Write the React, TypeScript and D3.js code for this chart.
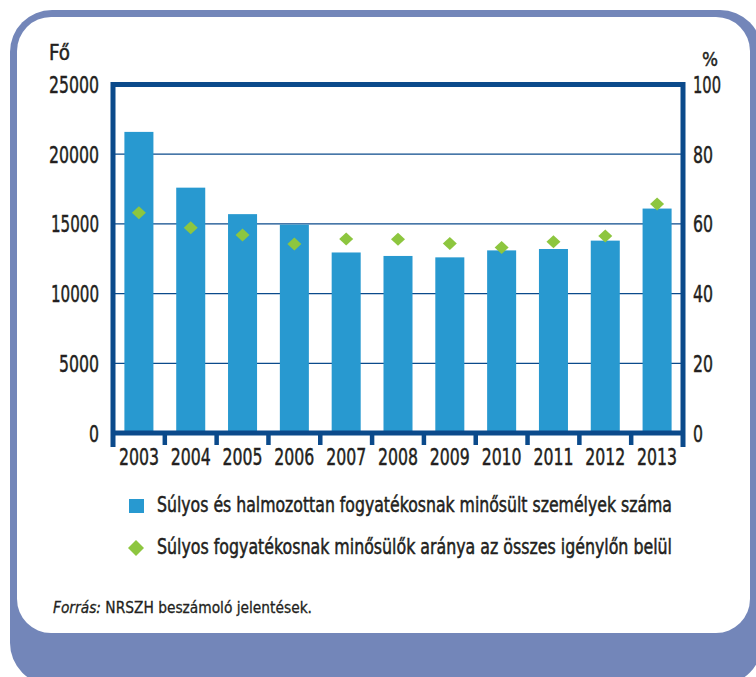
import React from "react";
import * as d3 from "d3";

const years = ["2003", "2004", "2005", "2006", "2007", "2008", "2009", "2010", "2011", "2012", "2013"];
const counts = [21600, 17600, 15700, 14950, 12950, 12700, 12600, 13100, 13200, 13800, 16100];
const ratios = [63.2, 58.9, 56.8, 54.2, 55.7, 55.6, 54.4, 53.2, 54.9, 56.5, 65.7];
const leftTicks = [0, 5000, 10000, 15000, 20000, 25000];
const rightTicks = [0, 20, 40, 60, 80, 100];
const leftUnit = "Fő";
const rightUnit = "%";
const legendBar = "Súlyos és halmozottan fogyatékosnak minősült személyek száma";
const legendDiamond = "Súlyos fogyatékosnak minősülők aránya az összes igénylőn belül";
const sourceLabel = "Forrás:";
const sourceText = " NRSZH beszámoló jelentések.";

const W = 756;
const H = 677;
const FONT = "'Liberation Sans Narrow', 'DejaVu Sans Condensed', 'Arial Narrow', sans-serif";
const BAR = "#2899d0";
const DIAMOND = "#8dc63f";
const FRAME = "#0b4a8b";
const TEXT = "#231f20";
const BORDER = "#7386b9";

const digitW = (s: string) => s.split("").reduce((a, c) => a + (c === "1" ? 8 : 10), 0);

export default function App() {
  const left = 113, right = 683, top = 84.5, bottom = 433;
  const x = d3.scaleBand<string>().domain(years).range([left, right]).padding(0);
  const y = d3.scaleLinear().domain([0, 25000]).range([bottom, top]);
  const y2 = d3.scaleLinear().domain([0, 100]).range([bottom, top]);
  const bw = x.bandwidth() * 0.56;
  const diamond = (cx: number, cy: number, hw: number, hh: number) =>
    `M${cx},${cy - hh}L${cx + hw},${cy}L${cx},${cy + hh}L${cx - hw},${cy}Z`;
  const heavy = { stroke: TEXT, strokeWidth: 0.45 };

  return (
    <svg width={W} height={H} style={{ position: "absolute", left: 0, top: 0, display: "block" }}
      fontFamily={FONT}>
      <rect x={0} y={0} width={W} height={H} fill="#ffffff" />
      <rect x={10} y={10} width={752} height={675} rx={42} ry={42} fill={BORDER} />
      <rect x={17} y={17} width={733} height={616} rx={34} ry={34} fill="#ffffff" />

      {/* gridlines */}
      {leftTicks.filter(t => t > 0 && t < 25000).map(t => (
        <line key={"g" + t} x1={left} x2={right} y1={y(t)} y2={y(t)} stroke={FRAME} strokeWidth={1.3} />
      ))}

      {/* bars */}
      {years.map((yr, i) => (
        <rect key={"b" + yr} x={(x(yr) as number) + (x.bandwidth() - bw) / 2} y={y(counts[i])}
          width={bw} height={bottom - y(counts[i])} fill={BAR} />
      ))}

      {/* diamonds */}
      {years.map((yr, i) => (
        <path key={"d" + yr} d={diamond((x(yr) as number) + x.bandwidth() / 2, y2(ratios[i]), 7, 6.5)} fill={DIAMOND} />
      ))}

      {/* frame */}
      <line x1={left} x2={right} y1={top} y2={top} stroke={FRAME} strokeWidth={5} />
      <line x1={left} x2={left} y1={top - 2.5} y2={bottom + 14} stroke={FRAME} strokeWidth={5} />
      <line x1={right} x2={right} y1={top - 2.5} y2={bottom + 14} stroke={FRAME} strokeWidth={5} />
      <line x1={left} x2={right} y1={bottom} y2={bottom} stroke={FRAME} strokeWidth={5} />
      {years.slice(1).map(yr => (
        <line key={"t" + yr} x1={x(yr) as number} x2={x(yr) as number} y1={bottom} y2={bottom + 12}
          stroke={FRAME} strokeWidth={4.5} />
      ))}

      {/* left axis labels */}
      {leftTicks.map(t => (
        <text key={"l" + t} x={99} y={y(t) + 8.5} textAnchor="end" fontSize={23} fill={TEXT} {...heavy}
          textLength={digitW(String(t))} lengthAdjust="spacingAndGlyphs">{t}</text>
      ))}
      <text x={49} y={60} fontSize={21} fill={TEXT} {...heavy} textLength={21} lengthAdjust="spacingAndGlyphs">{leftUnit}</text>

      {/* right axis labels */}
      {rightTicks.map(t => (
        <text key={"r" + t} x={693} y={y2(t) + 8.5} textAnchor="start" fontSize={23} fill={TEXT} {...heavy}
          textLength={digitW(String(t))} lengthAdjust="spacingAndGlyphs">{t}</text>
      ))}
      <text x={702} y={66} fontSize={20} fill={TEXT} {...heavy} textLength={16} lengthAdjust="spacingAndGlyphs">{rightUnit}</text>

      {/* x labels */}
      {years.map(yr => (
        <text key={"x" + yr} x={(x(yr) as number) + x.bandwidth() / 2} y={465} textAnchor="middle"
          fontSize={23} fill={TEXT} {...heavy} textLength={40} lengthAdjust="spacingAndGlyphs">{yr}</text>
      ))}

      {/* legend */}
      <rect x={129} y={499} width={15} height={14} fill={BAR} />
      <g transform="translate(157,512) scale(1,1.12)">
        <text x={0} y={0} fontSize={18.5} fill={TEXT} {...heavy} textLength={515} lengthAdjust="spacingAndGlyphs">{legendBar}</text>
      </g>
      <path d={diamond(136, 548, 8, 8)} fill={DIAMOND} />
      <g transform="translate(157,554) scale(1,1.12)">
        <text x={0} y={0} fontSize={18.5} fill={TEXT} {...heavy} textLength={515} lengthAdjust="spacingAndGlyphs">{legendDiamond}</text>
      </g>

      {/* source */}
      <text x={53} y={613} fontSize={16} fill={TEXT} stroke={TEXT} strokeWidth={0.3} textLength={259} lengthAdjust="spacingAndGlyphs">
        <tspan fontStyle="italic">{sourceLabel}</tspan>
        <tspan>{sourceText}</tspan>
      </text>
    </svg>
  );
}
